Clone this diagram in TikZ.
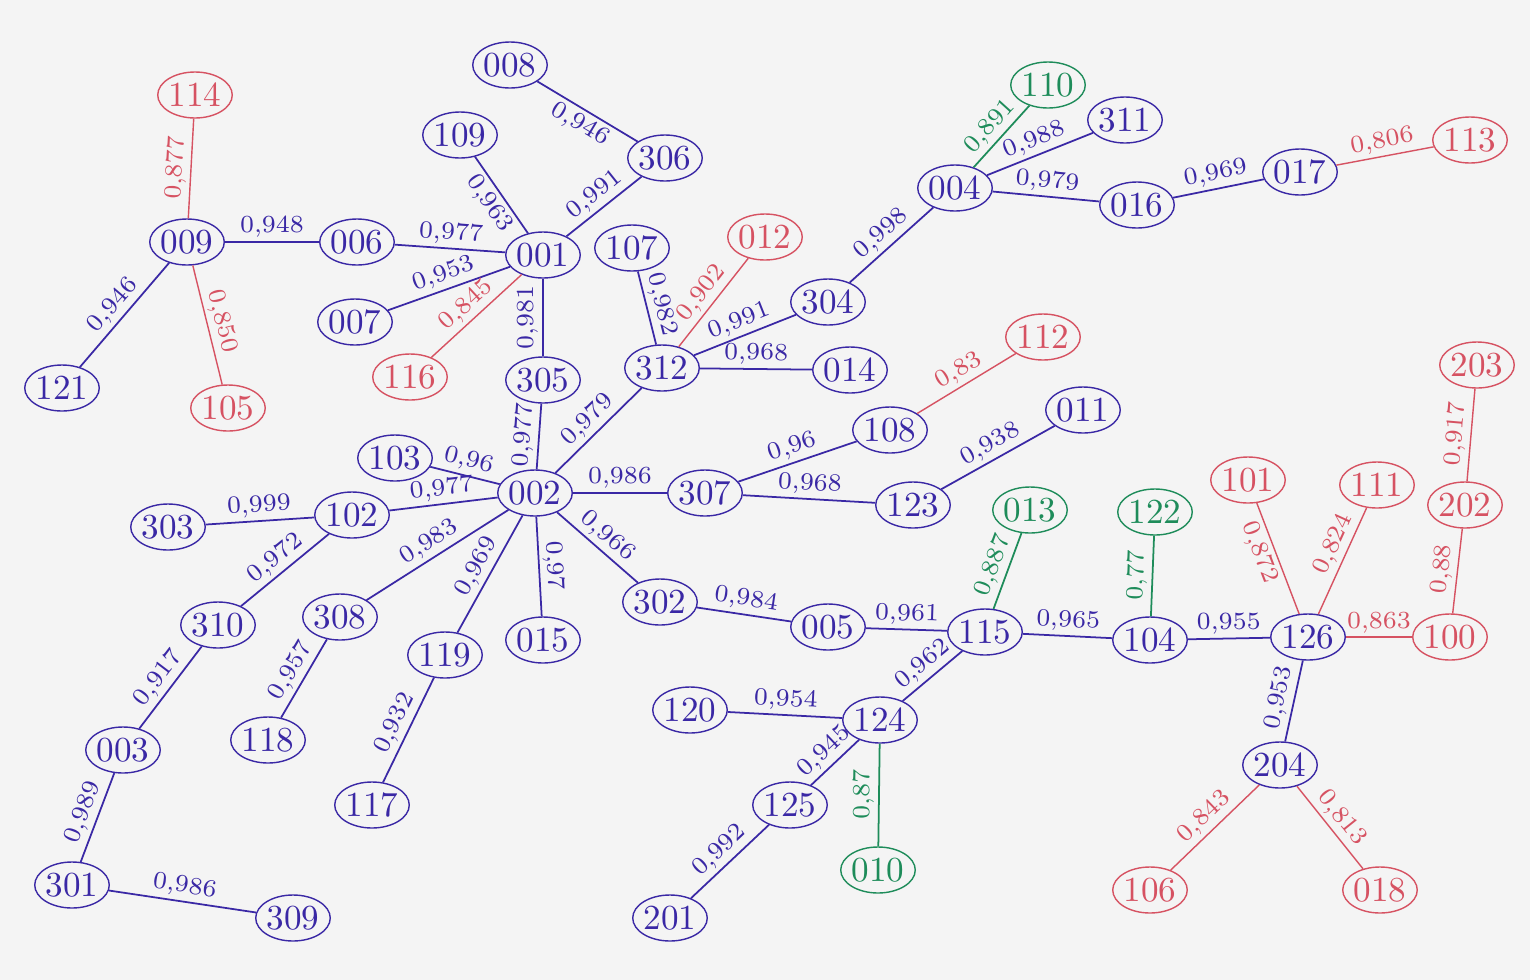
\documentclass[tikz,border=0pt]{standalone}
\usetikzlibrary{shapes.geometric}
\definecolor{pen}{RGB}{58,40,165}
\definecolor{penred}{RGB}{214,82,98}
\definecolor{pengreen}{RGB}{30,140,90}
\definecolor{paper}{RGB}{244,244,244}
\begin{document}
\begin{tikzpicture}[x=0.1mm, y=-0.1mm,
    every node/.style={ellipse, draw, inner sep=0pt, minimum width=7mm, minimum height=4.6mm, font=\normalsize},
    nd/.style={color=pen},
    rnd/.style={color=penred},
    gnd/.style={color=pengreen},
    edge/.style={color=pen, line width=0.5pt},
    redge/.style={color=penred, line width=0.4pt},
    gedge/.style={color=pengreen, line width=0.5pt},
    lbl/.style={rectangle, draw=none, minimum size=0pt, inner sep=1pt, midway, sloped, above, font=\scriptsize},
    lblb/.style={lbl, below}]
    \fill[paper] (0,0) rectangle (1530,980);
    \useasboundingbox (0,0) rectangle (1530,980);
    % left part
    \node[rnd] (n114) at (195,95) {114};
    \node[nd] (n009) at (187,242) {009};
    \node[nd] (n006) at (357,242) {006};
    \node[nd] (n121) at (62,388) {121};
    \node[rnd] (n105) at (228,408) {105};
    \node[nd] (n001) at (543,255) {001};
    \node[nd] (n109) at (460,135) {109};
    \node[nd] (n008) at (510,65) {008};
    \node[nd] (n306) at (665,158) {306};
    \node[nd] (n007) at (355,322) {007};
    \node[rnd] (n116) at (410,377) {116};
    \node[nd] (n305) at (543,380) {305};
    % upper middle
    \node[nd] (n107) at (632,248) {107};
    \node[rnd] (n012) at (765,237) {012};
    \node[nd] (n312) at (662,368) {312};
    \node[nd] (n304) at (828,302) {304};
    \node[nd] (n014) at (850,370) {014};
    \node[nd] (n004) at (955,188) {004};
    \node[gnd] (n110) at (1048,85) {110};
    \node[nd] (n311) at (1125,120) {311};
    \node[nd] (n016) at (1137,205) {016};
    \node[nd] (n017) at (1300,172) {017};
    \node[rnd] (n113) at (1470,140) {113};
    % center
    \node[nd] (n002) at (535,493) {002};
    \node[nd] (n103) at (395,458) {103};
    \node[nd] (n102) at (352,515) {102};
    \node[nd] (n303) at (168,527) {303};
    \node[nd] (n310) at (218,625) {310};
    \node[nd] (n308) at (340,617) {308};
    \node[nd] (n119) at (445,655) {119};
    \node[nd] (n015) at (543,640) {015};
    \node[nd] (n302) at (660,602) {302};
    \node[nd] (n307) at (705,493) {307};
    \node[nd] (n108) at (890,430) {108};
    \node[rnd] (n112) at (1043,337) {112};
    \node[nd] (n123) at (913,505) {123};
    \node[nd] (n011) at (1083,410) {011};
    % lower left
    \node[nd] (n003) at (123,750) {003};
    \node[nd] (n301) at (72,885) {301};
    \node[nd] (n309) at (293,918) {309};
    \node[nd] (n118) at (268,740) {118};
    \node[nd] (n117) at (372,805) {117};
    % lower right
    \node[nd] (n005) at (828,627) {005};
    \node[nd] (n115) at (985,632) {115};
    \node[gnd] (n013) at (1030,510) {013};
    \node[nd] (n104) at (1150,640) {104};
    \node[gnd] (n122) at (1155,512) {122};
    \node[nd] (n126) at (1308,637) {126};
    \node[rnd] (n101) at (1248,480) {101};
    \node[rnd] (n111) at (1377,485) {111};
    \node[rnd] (n100) at (1450,637) {100};
    \node[rnd] (n202) at (1465,505) {202};
    \node[rnd] (n203) at (1477,365) {203};
    \node[nd] (n204) at (1280,765) {204};
    \node[rnd] (n106) at (1150,890) {106};
    \node[rnd] (n018) at (1380,890) {018};
    \node[nd] (n120) at (690,710) {120};
    \node[nd] (n124) at (880,720) {124};
    \node[nd] (n125) at (790,805) {125};
    \node[gnd] (n010) at (878,870) {010};
    \node[nd] (n201) at (670,918) {201};

    % edges
    \draw[redge] (n009) -- node[lbl] {0,877} (n114);
    \draw[edge] (n009) -- node[lbl] {0,948} (n006);
    \draw[edge] (n121) -- node[lbl] {0,946} (n009);
    \draw[redge] (n105) -- node[lbl] {0,850} (n009);
    \draw[edge] (n006) -- node[lbl] {0,977} (n001);
    \draw[edge] (n007) -- node[lbl] {0,953} (n001);
    \draw[redge] (n116) -- node[lbl] {0,845} (n001);
    \draw[edge] (n109) -- node[lblb] {0,963} (n001);
    \draw[edge] (n008) -- node[lblb] {0,946} (n306);
    \draw[edge] (n001) -- node[lbl] {0,991} (n306);
    \draw[edge] (n305) -- node[lbl] {0,981} (n001);
    \draw[edge] (n305) -- node[lbl] {0,977} (n002);
    \draw[edge] (n312) -- node[lbl] {0,982} (n107);
    \draw[redge] (n312) -- node[lbl] {0,902} (n012);
    \draw[edge] (n312) -- node[lbl] {0,991} (n304);
    \draw[edge] (n312) -- node[lbl] {0,968} (n014);
    \draw[edge] (n304) -- node[lbl] {0,998} (n004);
    \draw[gedge] (n004) -- node[lbl] {0,891} (n110);
    \draw[edge] (n004) -- node[lbl] {0,988} (n311);
    \draw[edge] (n004) -- node[lbl] {0,979} (n016);
    \draw[edge] (n016) -- node[lbl] {0,969} (n017);
    \draw[redge] (n017) -- node[lbl] {0,806} (n113);
    \draw[edge] (n002) -- node[lbl] {0,979} (n312);
    \draw[edge] (n103) -- node[lbl] {0,96} (n002);
    \draw[edge] (n102) -- node[lbl] {0,977} (n002);
    \draw[edge] (n303) -- node[lbl] {0,999} (n102);
    \draw[edge] (n310) -- node[lbl] {0,972} (n102);
    \draw[edge] (n308) -- node[lbl] {0,983} (n002);
    \draw[edge] (n119) -- node[lbl] {0,969} (n002);
    \draw[edge] (n015) -- node[lbl] {0,97} (n002);
    \draw[edge] (n002) -- node[lbl] {0,966} (n302);
    \draw[edge] (n002) -- node[lbl] {0,986} (n307);
    \draw[edge] (n307) -- node[lbl] {0,96} (n108);
    \draw[redge] (n108) -- node[lbl] {0,83} (n112);
    \draw[edge] (n307) -- node[lbl] {0,968} (n123);
    \draw[edge] (n123) -- node[lbl] {0,938} (n011);
    \draw[edge] (n003) -- node[lbl] {0,917} (n310);
    \draw[edge] (n301) -- node[lbl] {0,989} (n003);
    \draw[edge] (n301) -- node[lbl] {0,986} (n309);
    \draw[edge] (n118) -- node[lbl] {0,957} (n308);
    \draw[edge] (n117) -- node[lbl] {0,932} (n119);
    \draw[edge] (n302) -- node[lbl] {0,984} (n005);
    \draw[edge] (n005) -- node[lbl] {0,961} (n115);
    \draw[gedge] (n115) -- node[lbl] {0,887} (n013);
    \draw[edge] (n115) -- node[lbl] {0,965} (n104);
    \draw[gedge] (n104) -- node[lbl] {0,77} (n122);
    \draw[edge] (n104) -- node[lbl] {0,955} (n126);
    \draw[redge] (n126) -- node[lblb, pos=0.6] {0,872} (n101);
    \draw[redge] (n126) -- node[lbl, pos=0.6] {0,824} (n111);
    \draw[redge] (n126) -- node[lbl] {0,863} (n100);
    \draw[redge] (n100) -- node[lbl] {0,88} (n202);
    \draw[redge] (n202) -- node[lbl] {0,917} (n203);
    \draw[edge] (n126) -- node[lbl] {0,953} (n204);
    \draw[redge] (n106) -- node[lbl] {0,843} (n204);
    \draw[redge] (n204) -- node[lbl] {0,813} (n018);
    \draw[edge] (n124) -- node[lbl] {0,962} (n115);
    \draw[edge] (n120) -- node[lbl] {0,954} (n124);
    \draw[edge] (n125) -- node[lbl] {0,945} (n124);
    \draw[gedge] (n124) -- node[lbl] {0,87} (n010);
    \draw[edge] (n201) -- node[lbl] {0,992} (n125);
\end{tikzpicture}
\end{document}
